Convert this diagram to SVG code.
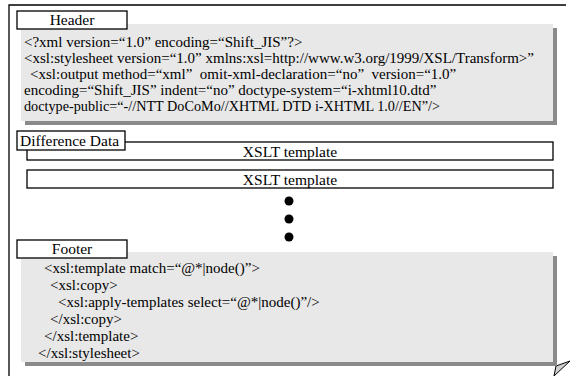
<svg xmlns="http://www.w3.org/2000/svg" width="571" height="376" viewBox="0 0 571 376">
<style>
text{font-family:'Liberation Serif','Times New Roman',serif;fill:#000}
.code{font-size:15px}
.lbl{font-size:15.5px}
.tab{fill:#fff;stroke:#000;stroke-width:1.3}
.panel{fill:#e8e8e8}
.shadow{fill:#8a8a8a}
.tmpl{fill:#fff;stroke:#000;stroke-width:1.3}
</style>
<rect width="571" height="376" fill="#fff"/>
<g id="frame">
<path d="M9,376 V5 H566" fill="none" stroke="#000" stroke-width="1.3"/>
<path d="M556,366 L570,361 L554,376 Z" fill="#d0d0d0" stroke="#000" stroke-width="1"/>
</g>
<g id="header" font-family="Liberation Serif, serif">
<rect class="shadow" x="25" y="28" width="532" height="97"/>
<rect class="panel" x="21" y="24" width="532" height="97"/>
<rect class="tab" x="17" y="11" width="110" height="18"/>
<text class="lbl" x="72" y="25" text-anchor="middle">Header</text>
<text class="code" x="24" y="47">&lt;?xml version=“1.0” encoding=“Shift_JIS”?&gt;</text>
<text class="code" x="24" y="63">&lt;xsl:stylesheet version=“1.0” xmlns:xsl=http://www.w3.org/1999/XSL/Transform&gt;”</text>
<text class="code" x="30" y="79" xml:space="preserve">&lt;xsl:output method=“xml”  omit-xml-declaration=“no”  version=“1.0”</text>
<text class="code" x="24" y="95">encoding=“Shift_JIS” indent=“no” doctype-system=“i-xhtml10.dtd”</text>
<text class="code" x="24" y="111" textLength="416" lengthAdjust="spacingAndGlyphs">doctype-public=“-//NTT DoCoMo//XHTML DTD i-XHTML 1.0//EN”/&gt;</text>
</g>
<g id="difference-data" font-family="Liberation Serif, serif">
<rect class="tmpl" x="27" y="142" width="526" height="18"/>
<text class="lbl" x="290" y="157" text-anchor="middle">XSLT template</text>
<rect class="tmpl" x="27" y="170" width="526" height="18"/>
<text class="lbl" x="290" y="185" text-anchor="middle">XSLT template</text>
<rect class="tab" x="17" y="131" width="108" height="19"/>
<text class="lbl" x="20" y="146">Difference Data</text>
<circle cx="289" cy="201" r="4.5" fill="#000"/>
<circle cx="289" cy="219" r="4.5" fill="#000"/>
<circle cx="289" cy="237" r="4.5" fill="#000"/>
</g>
<g id="footer" font-family="Liberation Serif, serif">
<rect class="shadow" x="25" y="256" width="532" height="110"/>
<rect class="panel" x="21" y="252" width="532" height="110"/>
<rect class="tab" x="17" y="240" width="110" height="18"/>
<text class="lbl" x="72" y="254" text-anchor="middle">Footer</text>
<text class="code" x="44" y="273">&lt;xsl:template match=“@*|node()”&gt;</text>
<text class="code" x="50" y="290">&lt;xsl:copy&gt;</text>
<text class="code" x="58" y="307">&lt;xsl:apply-templates select=“@*|node()”/&gt;</text>
<text class="code" x="50" y="324">&lt;/xsl:copy&gt;</text>
<text class="code" x="44" y="341">&lt;/xsl:template&gt;</text>
<text class="code" x="38" y="358">&lt;/xsl:stylesheet&gt;</text>
</g>
<g id="connectors"></g>
</svg>
